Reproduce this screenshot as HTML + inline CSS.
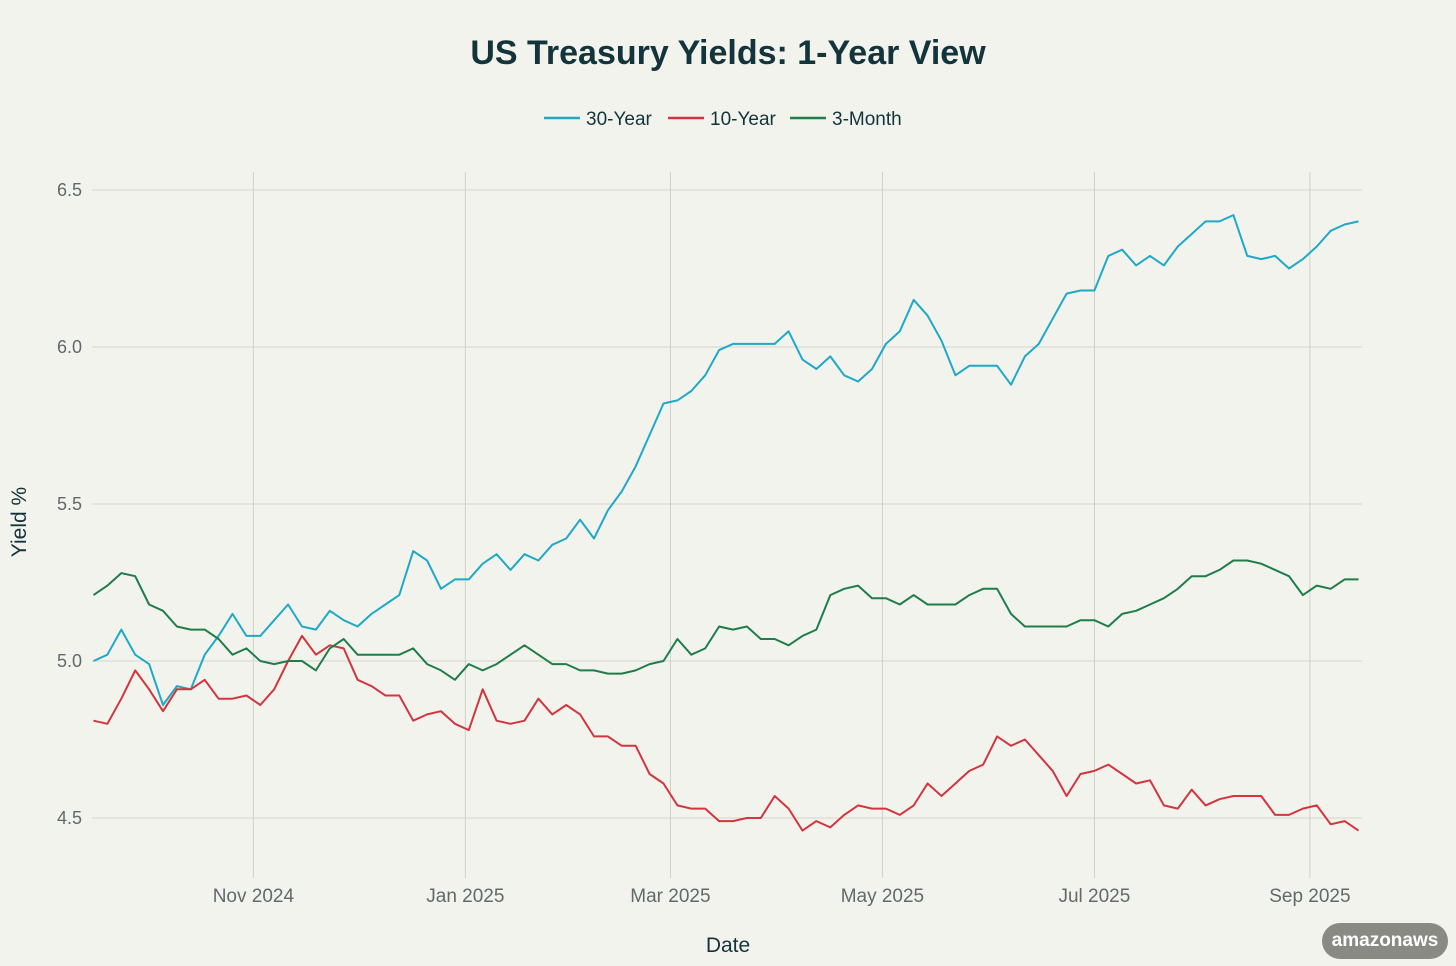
<!DOCTYPE html>
<html><head><meta charset="utf-8"><style>
body{margin:0;background:#f3f3ee;font-family:"Liberation Sans",sans-serif;}
#wrap{position:relative;width:1456px;height:966px;overflow:hidden;background:#f3f3ee;}
</style></head><body>
<div id="wrap">
<svg id="chart" width="1456" height="966"></svg>
<div style="position:absolute;left:1322px;top:923px;width:126px;height:36px;border-radius:18px;background:#8a8a84;color:#fff;font-weight:bold;font-size:19px;line-height:36px;text-align:center;">amazonaws</div>
</div>
<script>
const startDate = "2024-09-16";
const stepDays = 4.0;
const yTicks = [4.5, 5.0, 5.5, 6.0, 6.5];
const xTickDates = ["2024-11-01","2025-01-01","2025-03-01","2025-05-01","2025-07-01","2025-09-01"];
const xTickLabels = ["Nov 2024","Jan 2025","Mar 2025","May 2025","Jul 2025","Sep 2025"];
const seriesNames = ["30-Year","10-Year","3-Month"];
const y30 = [5.00,5.02,5.10,5.02,4.99,4.86,4.92,4.91,5.02,5.08,5.15,5.08,5.08,5.13,5.18,5.11,5.10,5.16,5.13,5.11,5.15,5.18,5.21,5.35,5.32,5.23,5.26,5.26,5.31,5.34,5.29,5.34,5.32,5.37,5.39,5.45,5.39,5.48,5.54,5.62,5.72,5.82,5.83,5.86,5.91,5.99,6.01,6.01,6.01,6.01,6.05,5.96,5.93,5.97,5.91,5.89,5.93,6.01,6.05,6.15,6.10,6.02,5.91,5.94,5.94,5.94,5.88,5.97,6.01,6.09,6.17,6.18,6.18,6.29,6.31,6.26,6.29,6.26,6.32,6.36,6.40,6.40,6.42,6.29,6.28,6.29,6.25,6.28,6.32,6.37,6.39,6.40];
const y10 = [4.81,4.80,4.88,4.97,4.91,4.84,4.91,4.91,4.94,4.88,4.88,4.89,4.86,4.91,5.00,5.08,5.02,5.05,5.04,4.94,4.92,4.89,4.89,4.81,4.83,4.84,4.80,4.78,4.91,4.81,4.80,4.81,4.88,4.83,4.86,4.83,4.76,4.76,4.73,4.73,4.64,4.61,4.54,4.53,4.53,4.49,4.49,4.50,4.50,4.57,4.53,4.46,4.49,4.47,4.51,4.54,4.53,4.53,4.51,4.54,4.61,4.57,4.61,4.65,4.67,4.76,4.73,4.75,4.70,4.65,4.57,4.64,4.65,4.67,4.64,4.61,4.62,4.54,4.53,4.59,4.54,4.56,4.57,4.57,4.57,4.51,4.51,4.53,4.54,4.48,4.49,4.46];
const y3m = [5.21,5.24,5.28,5.27,5.18,5.16,5.11,5.10,5.10,5.07,5.02,5.04,5.00,4.99,5.00,5.00,4.97,5.04,5.07,5.02,5.02,5.02,5.02,5.04,4.99,4.97,4.94,4.99,4.97,4.99,5.02,5.05,5.02,4.99,4.99,4.97,4.97,4.96,4.96,4.97,4.99,5.00,5.07,5.02,5.04,5.11,5.10,5.11,5.07,5.07,5.05,5.08,5.10,5.21,5.23,5.24,5.20,5.20,5.18,5.21,5.18,5.18,5.18,5.21,5.23,5.23,5.15,5.11,5.11,5.11,5.11,5.13,5.13,5.11,5.15,5.16,5.18,5.20,5.23,5.27,5.27,5.29,5.32,5.32,5.31,5.29,5.27,5.21,5.24,5.23,5.26,5.26];
const colors = ["#1ea9c6","#d2353d","#1f7d48"];

const NS="http://www.w3.org/2000/svg";
const svg=document.getElementById('chart');
const L=92,R=1362,T=172,B=878;
const t0=Date.parse(startDate);
function dayOf(s){return (Date.parse(s)-t0)/86400000;}
function xScale(d){return 93.5 + d*(212/61);}
function yScale(v){return 190 + (6.5-v)*314;}
function mk(tag,attrs){const e=document.createElementNS(NS,tag);for(const k in attrs)e.setAttribute(k,attrs[k]);svg.appendChild(e);return e;}

let t=mk('text',{x:728,y:64,'text-anchor':'middle','font-size':34,'font-weight':'bold',fill:'#13343b'});
t.textContent="US Treasury Yields: 1-Year View";



yTicks.forEach(v=>{
  const y=yScale(v);
  const g=mk('line',{x1:L,x2:R,y1:y,y2:y,stroke:'#d5d5d0','stroke-width':1});
  
  
  const lb=mk('text',{x:82,y:y+6,'text-anchor':'end','font-size':18,fill:'#5f6a6e'});
  lb.textContent=v.toFixed(1);
  
  
});
xTickDates.forEach((d,i)=>{
  const x=xScale(dayOf(d));
  const g=mk('line',{x1:x,x2:x,y1:T,y2:B,stroke:'#d0d0cb','stroke-width':1});
  
  
  const lb=mk('text',{x:x,y:902,'text-anchor':'middle','font-size':19,fill:'#5f6a6e'});
  lb.textContent=xTickLabels[i];
  
  
});
let xt=mk('text',{x:728,y:952,'text-anchor':'middle','font-size':21,fill:'#13343b'});
xt.textContent="Date";


let yt=mk('text',{x:0,y:0,'text-anchor':'middle','font-size':21,fill:'#13343b',transform:'translate(26,522) rotate(-90)'});
yt.textContent="Yield %";



[y30,y10,y3m].forEach((arr,si)=>{
  const pts=arr.map((v,i)=>xScale(i*stepDays).toFixed(1)+","+yScale(v).toFixed(1)).join(" ");
  const p=mk('polyline',{points:pts,fill:'none',stroke:colors[si],'stroke-width':2,'stroke-linejoin':'round'});
  
  
});

const legX=[544,668,790];
seriesNames.forEach((n,i)=>{
  const l=mk('line',{x1:legX[i],x2:legX[i]+36,y1:118,y2:118,stroke:colors[i],'stroke-width':2.5});
  
  
  const tx=mk('text',{x:legX[i]+42,y:125,'font-size':19,fill:'#13343b'});
  tx.textContent=n;
  
  
});
</script>
</body></html>
